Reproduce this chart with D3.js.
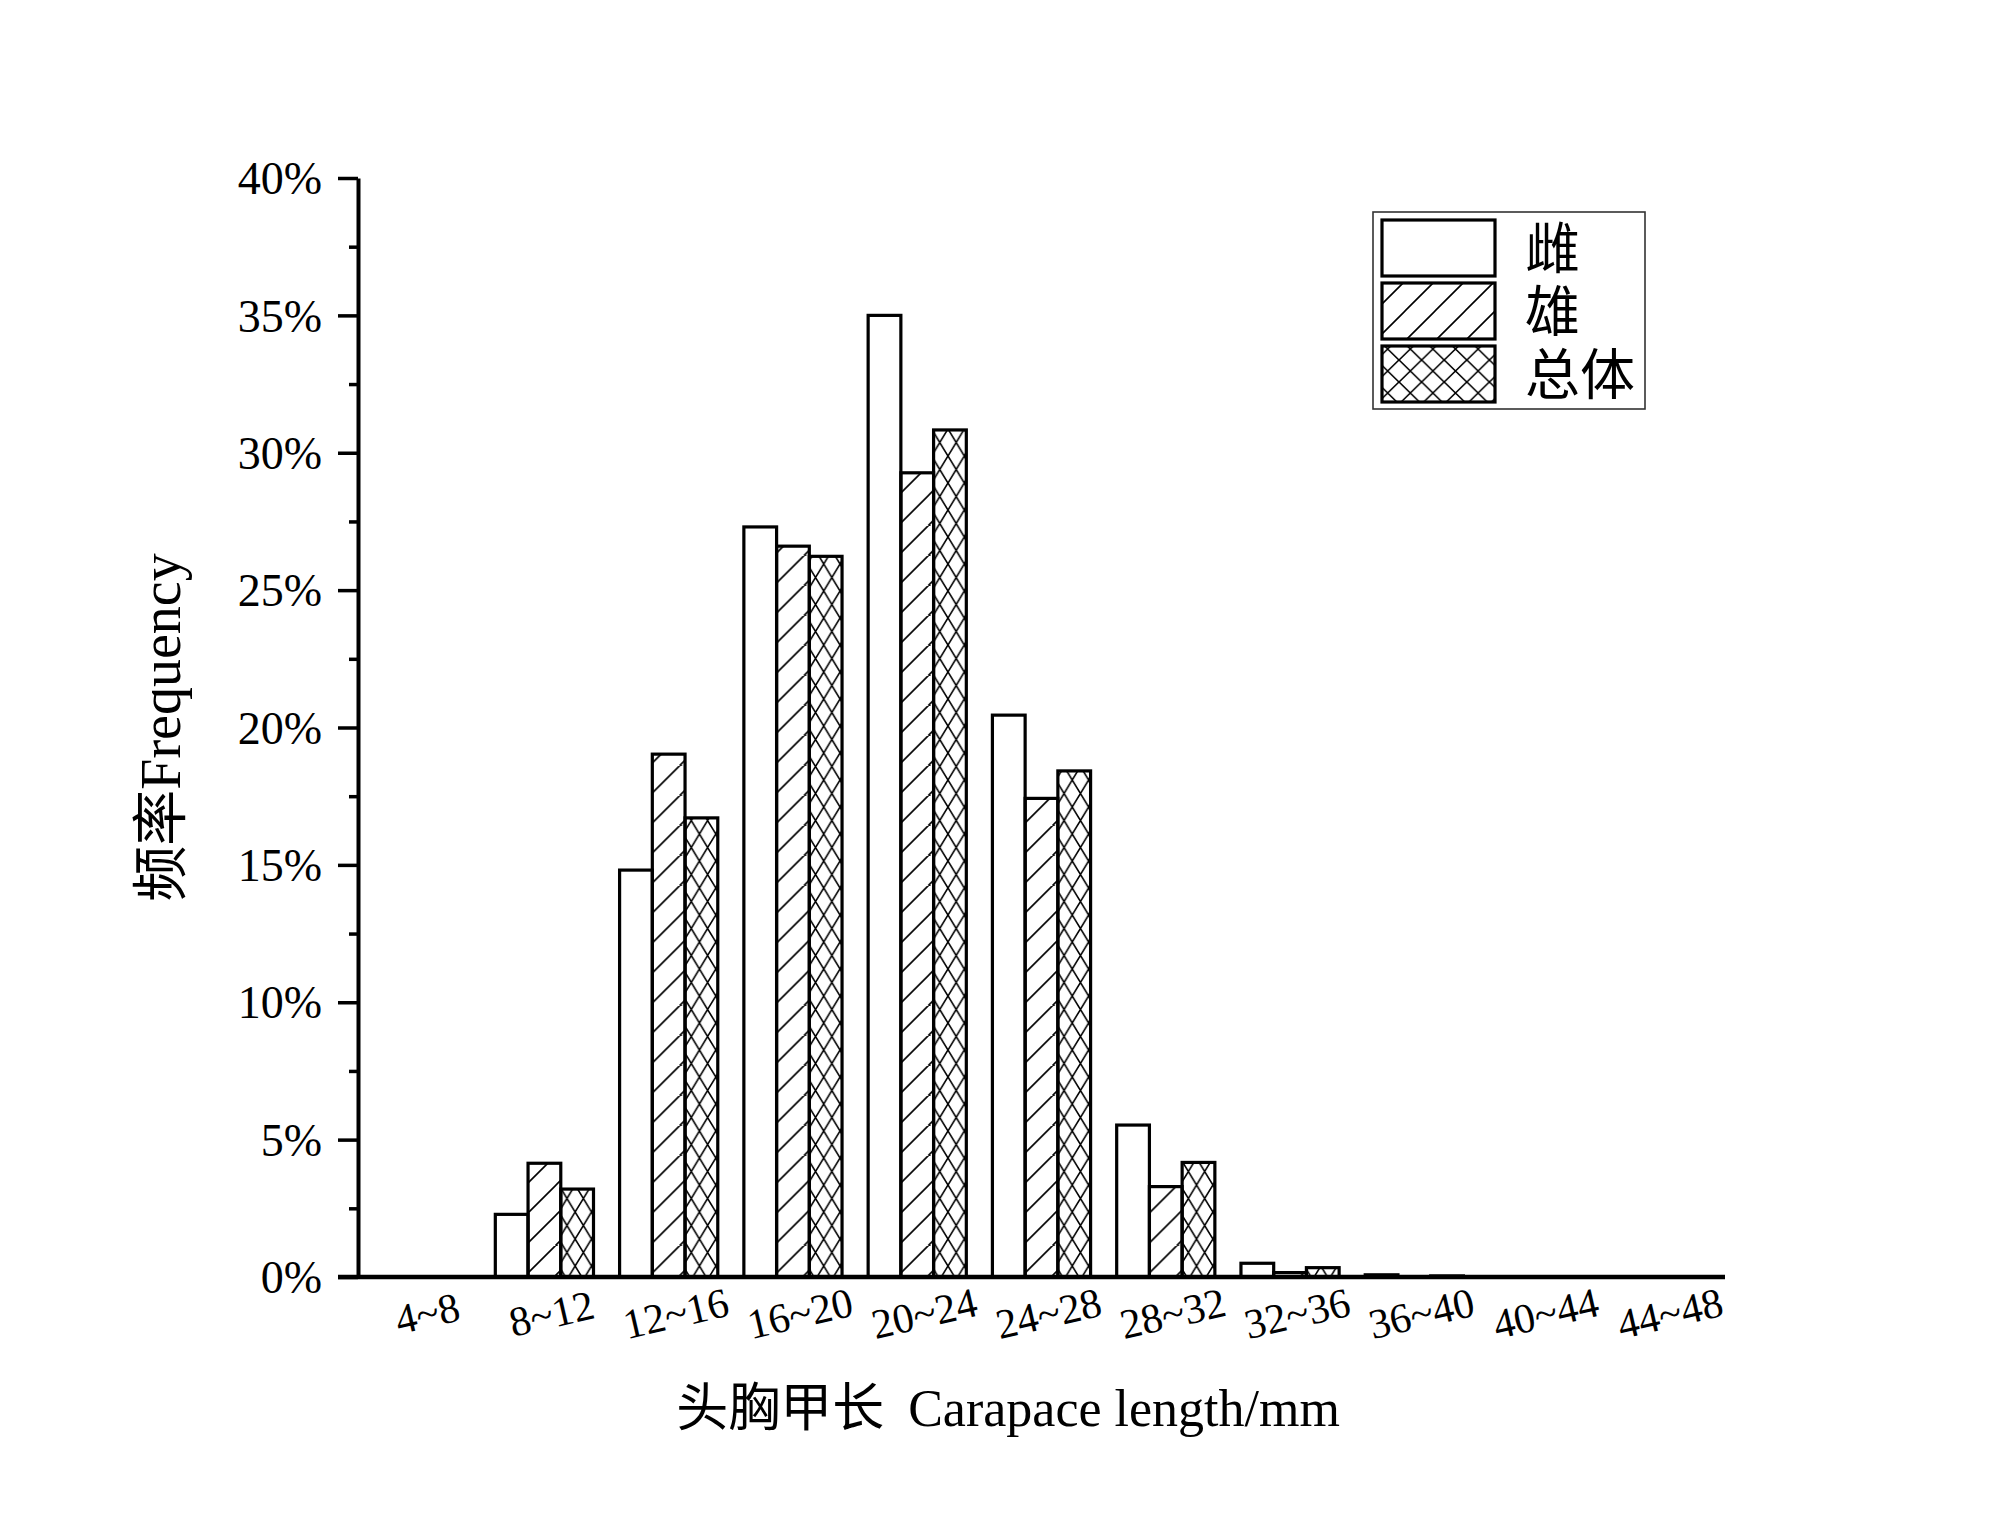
<!DOCTYPE html>
<html>
<head>
<meta charset="utf-8">
<script src="https://cdn.jsdelivr.net/npm/d3@7"></script>
<style>
  body { margin: 0; background: #fff; }
  text { font-family: "Liberation Serif", "Noto Sans CJK SC", serif; fill: #000; }
</style>
</head>
<body>
<script>
(function() {

    // Data (percent frequency per carapace length class)
    var categories = ['4~8', '8~12', '12~16', '16~20', '20~24', '24~28', '28~32', '32~36', '36~40', '40~44', '44~48'];
    var female = [0, 2.28, 14.81, 27.3, 35.0, 20.45, 5.53, 0.50, 0.08, 0, 0];
    var male   = [0, 4.14, 19.03, 26.6, 29.27, 17.42, 3.29, 0.16, 0, 0, 0];
    var total  = [0, 3.2, 16.71, 26.23, 30.83, 18.42, 4.17, 0.34, 0.04, 0, 0];
    var seriesNames = ['雌', '雄', '总体'];
    var yTicks = [0, 5, 10, 15, 20, 25, 30, 35, 40];
    var yMinorTicks = [2.5, 7.5, 12.5, 17.5, 22.5, 27.5, 32.5, 37.5];

    // Set dimensions and margins of graph
    var margin = {top: 178, right: 275, bottom: 254, left: 358},
        width = 2000 - margin.left - margin.right,
        height = 1531 - margin.top - margin.bottom;

    // Set ranges
    var x0 = d3.scaleBand().domain(categories).range([0, width])
        .paddingInner(0.21).paddingOuter(0.105);
    var x1 = d3.scaleBand().domain([0, 1, 2]).range([0, x0.bandwidth()]);
    var y = d3.scaleLinear().domain([0, 40]).range([height, 0]);

    var svg = d3.select('body').append('svg')
        .attr('width', 2000)
        .attr('height', 1531);

    var defs = svg.append('defs');
    var g = svg.append('g')
        .attr('transform', 'translate(' + margin.left + ',' + margin.top + ')');

    // Hatch patterns, anchored on each bar
    function makePattern(id, kind, px, py, w, h) {
        var p = defs.append('pattern')
            .attr('id', id)
            .attr('patternUnits', 'userSpaceOnUse')
            .attr('x', px).attr('y', py)
            .attr('width', w).attr('height', h);
        var d;
        if (kind === 1) {
            d = 'M0,' + h + 'L' + w + ',0M-3,3L3,-3M' + (w - 3) + ',' + (h + 3) + 'L' + (w + 3) + ',' + (h - 3);
        } else {
            d = 'M0,0L' + w + ',' + h + 'M' + w + ',0L0,' + h;
        }
        p.append('path').attr('d', d)
            .attr('stroke', '#000').attr('stroke-width', 1.6).attr('fill', 'none');
        return 'url(#' + id + ')';
    }

    var series = [female, male, total];
    var bars = [];
    series.forEach(function(vals, s) {
        vals.forEach(function(v, i) {
            if (v > 0) bars.push({s: s, i: i, v: v});
        });
    });

    // Add the bars
    g.selectAll('.bar')
        .data(bars)
      .enter().append('rect')
        .attr('class', 'bar')
        .attr('x', function(d) { return x0(categories[d.i]) + x1(d.s); })
        .attr('y', function(d) { return y(d.v); })
        .attr('width', x1.bandwidth())
        .attr('height', function(d) { return height - y(d.v); })
        .attr('fill', function(d) {
            if (d.s === 0) return '#fff';
            var bx = margin.left + x0(categories[d.i]) + x1(d.s);
            if (d.s === 1) return makePattern('p' + d.s + '-' + d.i, 1, bx, margin.top + height, 30, 30);
            return makePattern('p' + d.s + '-' + d.i, 2, bx, margin.top + height, x1.bandwidth() / 2, 27);
        })
        .attr('stroke', '#000')
        .attr('stroke-width', 3.2);

    // Add the y axis (major + minor ticks)
    var yAxis = g.append('g')
        .call(d3.axisLeft(y).tickValues(yTicks).tickSize(20).tickSizeOuter(0).tickPadding(16)
            .tickFormat(function(d) { return d + '%'; }));
    yAxis.selectAll('line').attr('stroke-width', 3.5);
    yAxis.select('.domain').attr('stroke-width', 4);
    yAxis.selectAll('text').attr('font-size', 46)
        .attr('font-family', '"Liberation Serif", serif').attr('dy', '0.34em');

    var yMinor = g.append('g')
        .call(d3.axisLeft(y).tickValues(yMinorTicks).tickSize(9).tickFormat(''));
    yMinor.select('.domain').remove();
    yMinor.selectAll('line').attr('stroke-width', 3.5);

    // Add the x axis
    var xAxis = g.append('g')
        .attr('transform', 'translate(0,' + height + ')')
        .call(d3.axisBottom(x0).tickSize(0).tickSizeOuter(0));
    xAxis.select('.domain').remove();
    xAxis.append('line')
        .attr('x1', -20).attr('x2', width)
        .attr('stroke', '#000').attr('stroke-width', 4.5);
    xAxis.selectAll('.tick text')
        .attr('font-size', 42)
        .attr('font-family', '"Liberation Serif", serif')
        .attr('text-anchor', 'middle')
        .attr('y', 0).attr('dy', '0.35em')
        .attr('transform', 'translate(7,36) rotate(-13)');

    // Axis titles
    svg.append('text')
        .attr('transform', 'translate(160,' + (margin.top + height / 2) + ') rotate(-90)')
        .attr('text-anchor', 'middle')
        .attr('dy', '0.35em')
        .attr('font-size', 56)
        .text('频率Frequency');

    var xt = svg.append('text')
        .attr('x', 1008).attr('y', 1426)
        .attr('text-anchor', 'middle')
        .attr('font-size', 52);
    xt.append('tspan').text('头胸甲长');
    xt.append('tspan').attr('dx', 24).text('Carapace length/mm');

    // Legend
    var legend = svg.append('g').attr('transform', 'translate(1373,212)');
    legend.append('rect')
        .attr('width', 272).attr('height', 197)
        .attr('fill', '#fff').attr('stroke', '#333').attr('stroke-width', 1.6);
    seriesNames.forEach(function(name, s) {
        var sy = 8 + s * 63;
        var fill = '#fff';
        if (s === 1) fill = makePattern('leg1', 1, 1382, 212 + sy + 56, 30, 30);
        if (s === 2) fill = makePattern('leg2', 2, 1382, 212 + sy, 22.6, 22);
        legend.append('rect')
            .attr('x', 9).attr('y', sy)
            .attr('width', 113).attr('height', 56)
            .attr('fill', fill)
            .attr('stroke', '#000').attr('stroke-width', 3.2);
        legend.append('text')
            .attr('x', 152).attr('y', sy + 28)
            .attr('dy', '0.36em')
            .attr('font-size', 55)
            .attr('font-family', '"Noto Sans CJK SC", sans-serif')
            .text(name);
    });

})();
</script>
</body>
</html>
